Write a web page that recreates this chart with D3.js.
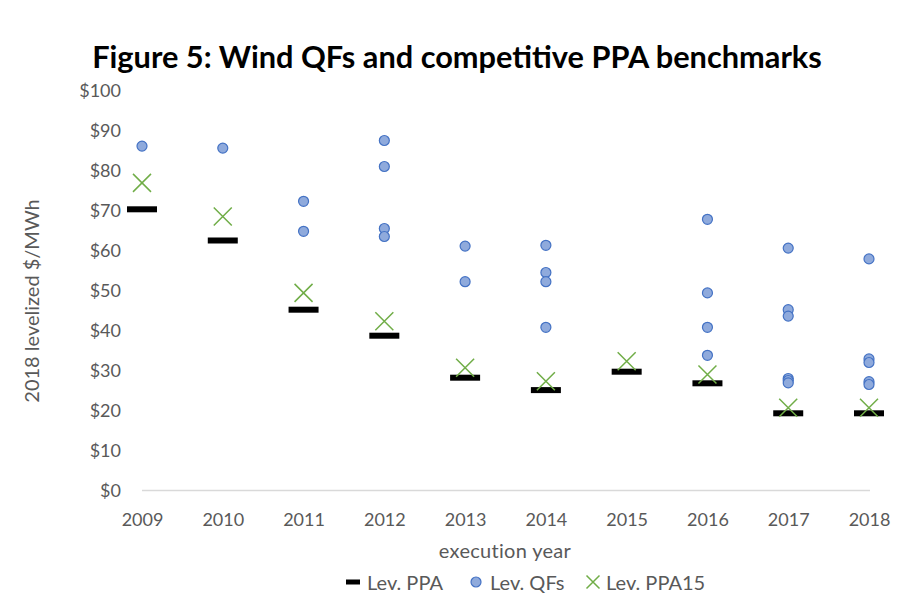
<!DOCTYPE html>
<html>
<head>
<meta charset="utf-8">
<script src="https://cdn.jsdelivr.net/npm/d3@7"></script>
<style>
  body { margin: 0; background: #fff; }
  svg { display: block; font-family: Lato, "Open Sans", sans-serif; }
  .tick text { fill: #595959; font-size: 18px; font-family: Lato, "Open Sans", sans-serif; }
</style>
</head>
<body>
<div id="chart"></div>
<script>
// chart data
var years = [2009, 2010, 2011, 2012, 2013, 2014, 2015, 2016, 2017, 2018];
var levPPA = [70.3, 62.5, 45.2, 38.7, 28.2, 25.1, 29.7, 26.8, 19.3, 19.3];
var levPPA15 = [76.9, 68.5, 49.4, 42.3, 30.7, 27.3, 32.3, 29.0, 20.7, 20.7];
var levQFs = [
  [86.1],
  [85.6],
  [72.3, 64.8],
  [87.5, 81.0, 65.5, 63.5],
  [61.1, 52.2],
  [61.3, 54.5, 52.2, 40.8],
  [],
  [67.8, 49.4, 40.8, 33.8],
  [60.6, 45.2, 43.6, 28.0, 27.5, 26.9],
  [57.9, 32.9, 32.0, 27.2, 26.5]
];
var yTicks = [0, 10, 20, 30, 40, 50, 60, 70, 80, 90, 100];

var W = 920, H = 612;
var plot = { l: 142, r: 869, t: 90.5, b: 490.5 };

var svg = d3.select("#chart").append("svg")
  .attr("width", W)
  .attr("height", H);

var x = d3.scalePoint().domain(years).range([plot.l, plot.r]).padding(0);
var y = d3.scaleLinear().domain([0, 100]).range([plot.b, plot.t]);

// title, scaled to the reference width
var title = svg.append("text")
  .attr("x", 457)
  .attr("y", 68)
  .attr("text-anchor", "middle")
  .style("font-weight", "bold")
  .style("font-size", "28px")
  .style("fill", "#000")
  .text("Figure 5: Wind QFs and competitive PPA benchmarks");
var tw = title.node().getComputedTextLength();
title.style("font-size", (28 * 730 / tw) + "px");

// y axis (labels only)
var yAxis = svg.append("g")
  .attr("transform", "translate(" + (plot.l - 10) + ",0)")
  .call(d3.axisLeft(y).tickValues(yTicks).tickSize(0).tickPadding(11)
    .tickFormat(function (d) { return "$" + d; }));
yAxis.select(".domain").remove();
yAxis.selectAll("text").attr("dy", "0.35em");

// x axis
var xAxis = svg.append("g")
  .attr("transform", "translate(0," + plot.b + ")")
  .call(d3.axisBottom(x).tickSize(0).tickPadding(23).tickFormat(d3.format("d")));
xAxis.select(".domain").remove();
svg.append("line")
  .attr("x1", plot.l).attr("x2", plot.r + 1)
  .attr("y1", plot.b).attr("y2", plot.b)
  .attr("stroke", "#d9d9d9")
  .attr("stroke-width", 1.3);

// axis titles
svg.append("text")
  .attr("transform", "translate(39,301) rotate(-90)")
  .attr("text-anchor", "middle")
  .style("font-size", "20px")
  .style("fill", "#595959")
  .text("2018 levelized $/MWh");

svg.append("text")
  .attr("x", 505)
  .attr("y", 558)
  .attr("text-anchor", "middle")
  .style("font-size", "20px")
  .style("letter-spacing", "0.3px")
  .style("fill", "#595959")
  .text("execution year");

// marks
var qfPoints = [];
years.forEach(function (yr, i) {
  levQFs[i].forEach(function (v) { qfPoints.push({ yr: yr, v: v }); });
});

svg.append("g").selectAll("rect")
  .data(years)
  .enter().append("rect")
  .attr("x", function (d) { return x(d) - 15; })
  .attr("y", function (d, i) { return y(levPPA[i]) - 3; })
  .attr("width", 30)
  .attr("height", 6)
  .attr("fill", "#000");

svg.append("g").selectAll("circle")
  .data(qfPoints)
  .enter().append("circle")
  .attr("cx", function (d) { return x(d.yr); })
  .attr("cy", function (d) { return y(d.v); })
  .attr("r", 5)
  .attr("fill", "#8faadc")
  .attr("stroke", "#4472c4")
  .attr("stroke-width", 1.2);

function cross(sel, s) {
  sel.append("path")
    .attr("d", "M" + -s + "," + -s + "L" + s + "," + s + "M" + -s + "," + s + "L" + s + "," + -s)
    .attr("stroke", "#70ad47")
    .attr("stroke-width", 1.5)
    .attr("fill", "none");
}

svg.append("g").selectAll("g")
  .data(years)
  .enter().append("g")
  .attr("transform", function (d, i) { return "translate(" + x(d) + "," + y(levPPA15[i]) + ")"; })
  .call(cross, 9);

// legend
var legend = svg.append("g").attr("transform", "translate(0,582)");
legend.append("rect")
  .attr("x", 346).attr("y", -2.5).attr("width", 14).attr("height", 5).attr("fill", "#000");
legend.append("text").attr("x", 367).attr("y", 8)
  .style("font-size", "20px").style("fill", "#595959").text("Lev. PPA");
legend.append("circle")
  .attr("cx", 476).attr("cy", 0).attr("r", 5)
  .attr("fill", "#8faadc").attr("stroke", "#4472c4").attr("stroke-width", 1.2);
legend.append("text").attr("x", 490).attr("y", 8)
  .style("font-size", "20px").style("fill", "#595959").text("Lev. QFs");
legend.append("g").attr("transform", "translate(593,0)").call(cross, 6.5);
legend.append("text").attr("x", 606).attr("y", 8)
  .style("font-size", "20px").style("fill", "#595959").text("Lev. PPA15");
</script>
</body>
</html>
